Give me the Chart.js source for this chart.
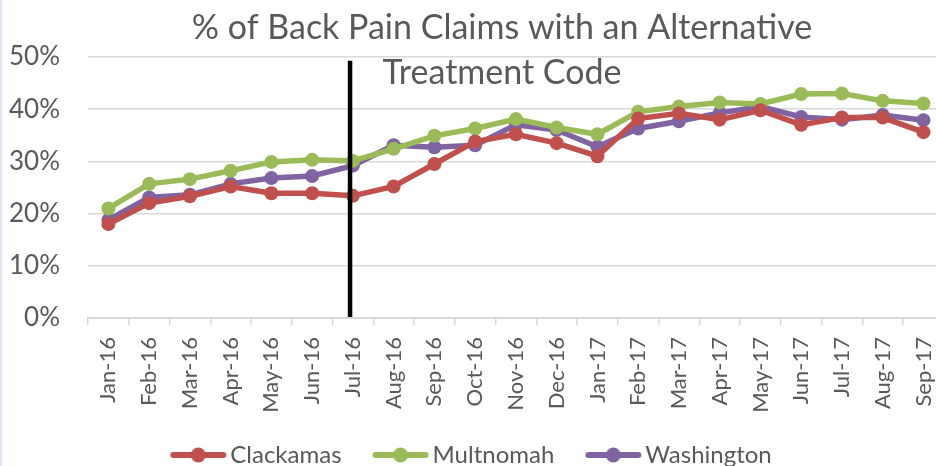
<!DOCTYPE html>
<html>
<head>
<meta charset="utf-8">
<script src="https://cdn.jsdelivr.net/npm/chart.js@4/dist/chart.umd.min.js"></script>
<style>
  html, body { margin: 0; padding: 0; background: #fff; overflow: hidden; }
  #wrap { position: relative; width: 960px; height: 477px; border-left: 2px solid #dfe6f7; }
</style>
</head>
<body>
<div id="wrap"><canvas id="chart"></canvas></div>
<script>
// chart data (percent)
var months = ["Jan-16","Feb-16","Mar-16","Apr-16","May-16","Jun-16","Jul-16","Aug-16","Sep-16","Oct-16","Nov-16","Dec-16",
              "Jan-17","Feb-17","Mar-17","Apr-17","May-17","Jun-17","Jul-17","Aug-17","Sep-17"]
var clackamas  = [18.0, 22.0, 23.3, 25.2, 23.9, 23.9, 23.4, 25.2, 29.5, 33.8, 35.2, 33.5, 31.0, 38.2, 39.2, 38.0, 39.8, 37.0, 38.4, 38.4, 35.6]
var multnomah  = [21.0, 25.7, 26.6, 28.2, 29.9, 30.3, 30.1, 32.4, 34.9, 36.3, 38.1, 36.5, 35.2, 39.5, 40.5, 41.3, 41.0, 42.9, 43.0, 41.6, 41.1]
var washington = [18.8, 23.1, 23.6, 25.7, 26.8, 27.2, 29.2, 33.1, 32.7, 33.1, 37.0, 36.0, 32.8, 36.3, 37.7, 39.3, 40.5, 38.5, 38.0, 38.9, 37.9]
var yTicks = [0, 10, 20, 30, 40, 50]
var titleLines = ["% of Back Pain Claims with an Alternative", "Treatment Code"]
var markerPos = 5.93   // vertical marker, just before Jul-16
var markerTop = 49.3

var RED = "#C0504D", GREEN = "#9BBB59", PURPLE = "#8064A2"
var FONT = "Lato, 'Open Sans', sans-serif"
var GREY = "#595959"
var LEGEND_SHIFT = -16

// legend swatch: line with a dot, with some empty room on the left
function LegendMark(color){
    var c = document.createElement("canvas")
    c.width = 76; c.height = 18
    var ctx = c.getContext("2d")
    ctx.strokeStyle = color
    ctx.lineWidth = 6
    ctx.lineCap = "round"
    ctx.beginPath(); ctx.moveTo(22, 9); ctx.lineTo(72, 9); ctx.stroke()
    ctx.fillStyle = color
    ctx.beginPath(); ctx.arc(47, 9, 7.5, 0, Math.PI * 2); ctx.fill()
    return c
}

function Series(label, data, color){
    return {
        label: label,
        data: data,
        borderColor: color,
        backgroundColor: color,
        borderWidth: 5.5,
        pointRadius: 7,
        pointHoverRadius: 7,
        pointBorderWidth: 0,
        tension: 0,
        fill: false
    }
}

var overlay = {
    id: "overlay",
    afterLayout: function(chart){
        // legend sits a bit left of centre in the original
        chart.legend.left += LEGEND_SHIFT
        chart.legend.right += LEGEND_SHIFT
    },
    afterDraw: function(chart){
        var ctx = chart.ctx
        var x = chart.scales.x, y = chart.scales.y
        // marker line
        var px = x.getPixelForValue(markerPos)
        ctx.save()
        ctx.strokeStyle = "#000"
        ctx.lineWidth = 4.5
        ctx.beginPath()
        ctx.moveTo(px, y.getPixelForValue(markerTop))
        ctx.lineTo(px, y.getPixelForValue(0) - 1)
        ctx.stroke()
        // title
        ctx.fillStyle = GREY
        ctx.font = "34px " + FONT
        ctx.textAlign = "center"
        ctx.textBaseline = "middle"
        ctx.fillText(titleLines[0], 500, 28)
        ctx.fillText(titleLines[1], 500, 73)
        ctx.restore()
    }
}

var ctx = document.getElementById("chart").getContext("2d")
var chart = new Chart(ctx, {
    type: "line",
    data: {
        labels: months,
        datasets: [
            Series("Clackamas", clackamas, RED),
            Series("Multnomah", multnomah, GREEN),
            Series("Washington", washington, PURPLE)
        ]
    },
    options: {
        responsive: true,
        maintainAspectRatio: false,
        animation: false,
        layout: { padding: { top: 57, left: 0, right: 0, bottom: 0 } },
        plugins: {
            title: { display: false },
            tooltip: { enabled: false },
            legend: {
                position: "bottom",
                labels: {
                    usePointStyle: true,
                    pointStyleWidth: 58,
                    font: { family: FONT, size: 24 },
                    color: GREY,
                    padding: 21,
                    generateLabels: function(chart){
                        return chart.data.datasets.map(function(ds, i){
                            return {
                                text: ds.label,
                                pointStyle: LegendMark(ds.borderColor),
                                fillStyle: ds.borderColor,
                                strokeStyle: ds.borderColor,
                                lineWidth: 0,
                                fontColor: GREY,
                                datasetIndex: i
                            }
                        })
                    }
                }
            }
        },
        scales: {
            x: {
                offset: true,
                afterFit: function(axis){ axis.height = 104 },
                grid: {
                    offset: true,
                    drawOnChartArea: false,
                    drawTicks: true,
                    tickLength: 7,
                    color: "#d9d9d9",
                    lineWidth: 1.5
                },
                border: { color: "#d9d9d9", width: 2 },
                ticks: {
                    autoSkip: false,
                    maxRotation: 90,
                    minRotation: 90,
                    padding: 12,
                    color: GREY,
                    font: { family: FONT, size: 22 }
                }
            },
            y: {
                min: 0,
                max: 50,
                afterFit: function(axis){ axis.width = 86 },
                afterBuildTicks: function(axis){
                    axis.ticks = yTicks.map(function(v){ return { value: v } })
                },
                grid: { color: "#d9d9d9", lineWidth: 1.5, drawTicks: false },
                border: { display: false },
                ticks: {
                    padding: 28,
                    color: GREY,
                    font: { family: FONT, size: 26 },
                    callback: function(v){ return v + "%" }
                }
            }
        }
    },
    plugins: [overlay]
})
</script>
</body>
</html>
